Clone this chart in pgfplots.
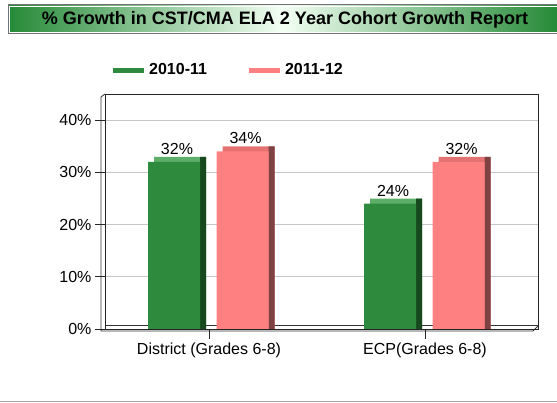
\documentclass[border=0pt]{standalone}
\usepackage{fontspec}
\setmainfont{Liberation Sans}
\usepackage{pgfplots}
\pgfplotsset{compat=1.18}
\definecolor{gfront}{HTML}{2E8B3E}
\definecolor{gtop}{HTML}{5DAE68}
\definecolor{gside}{HTML}{17491E}
\definecolor{pfront}{HTML}{FF8080}
\definecolor{ptop}{HTML}{E47272}
\definecolor{pside}{HTML}{7E4242}
\definecolor{ban}{HTML}{268A38}
\begin{document}
\begin{tikzpicture}[x=1pt,y=1pt]
\path[use as bounding box] (0,0) rectangle (557,403);
% title banner
\shade[left color=ban, right color=ban, middle color=green!5!white] (8,369) rectangle (557,398);
\draw[white, line width=0.8pt] (9.5,370.5) rectangle (557,396.5);
\draw[black!55, line width=1pt] (8,369) rectangle (557,398);
\node[font=\bfseries\fontsize{18}{20}\selectfont] at (285,383.5) {\% Growth in CST/CMA ELA 2 Year Cohort Growth Report};
% bottom rule
\draw[black!35, line width=1.5pt] (0,1.5) -- (557,1.5);
% 3D wall / floor edges
\draw[black!80, line width=0.8pt] (105,78) -- (538,78);
\draw[black!80, line width=0.8pt] (101,306) -- (101,72) -- (533,72) -- (538,77);
\draw[black!80, line width=0.8pt] (101,306) -- (105,309);
\begin{axis}[
  at={(105pt,74pt)}, anchor=south west, scale only axis,
  width=433pt, height=235pt,
  xmin=-0.4815, xmax=1.523, ymin=0, ymax=45,
  xtick={0,1}, xticklabels={District (Grades 6-8), ECP(Grades 6-8)},
  ytick={0,10,20,30,40}, yticklabel={\pgfmathprintnumber{\tick}\%},
  xtick pos=lower, ytick pos=left,
  tick align=outside, major tick length=10pt,
  ymajorgrids, grid style={black!22, line width=0.8pt},
  axis line style={black!85, line width=0.9pt},
  tick style={black!85, line width=0.9pt},
  ticklabel style={font=\fontsize{16}{18}\selectfont},
  /pgf/number format/assume math mode=true,
  ybar,
  legend columns=2,
  legend style={draw=none, fill=none, at={(0.0185,1.102)}, anchor=west,
    font=\bfseries\fontsize{16}{18}\selectfont, inner sep=0pt,
    /tikz/every even column/.append style={column sep=40pt}},
]
% green series (2010-11)
\addplot[ybar, fill=gtop, draw=none, bar width=52pt, bar shift=-29pt, forget plot,
  y filter/.expression={y+0.957}] coordinates {(0,32) (1,24)};
\addplot[ybar, fill=gside, draw=none, bar width=6pt, bar shift=-6pt, forget plot,
  y filter/.expression={y+0.957}] coordinates {(0,32) (1,24)};
\addplot[ybar, fill=gfront, draw=none, bar width=52pt, bar shift=-35pt,
  nodes near coords={\pgfmathprintnumber{\pgfplotspointmeta}\%},
  every node near coord/.append style={font=\fontsize{16}{18}\selectfont, black, xshift=3pt, yshift=4pt},
  legend image code/.code={\fill[gfront] (0pt,-2.5pt) rectangle (31pt,2.5pt);}]
  coordinates {(0,32) (1,24)};
\addlegendentry{\hspace{3pt}2010-11}
% pink series (2011-12)
\addplot[ybar, fill=ptop, draw=none, bar width=52pt, bar shift=39.5pt, forget plot,
  y filter/.expression={y+0.957}] coordinates {(0,34) (1,32)};
\addplot[ybar, fill=pside, draw=none, bar width=6pt, bar shift=62.5pt, forget plot,
  y filter/.expression={y+0.957}] coordinates {(0,34) (1,32)};
\addplot[ybar, fill=pfront, draw=none, bar width=52pt, bar shift=33.5pt,
  nodes near coords={\pgfmathprintnumber{\pgfplotspointmeta}\%},
  every node near coord/.append style={font=\fontsize{16}{18}\selectfont, black, xshift=3pt, yshift=4pt},
  legend image code/.code={\fill[pfront] (0pt,-2.5pt) rectangle (31pt,2.5pt);}]
  coordinates {(0,34) (1,32)};
\addlegendentry{\hspace{3pt}2011-12}
\end{axis}
\end{tikzpicture}
\end{document}
